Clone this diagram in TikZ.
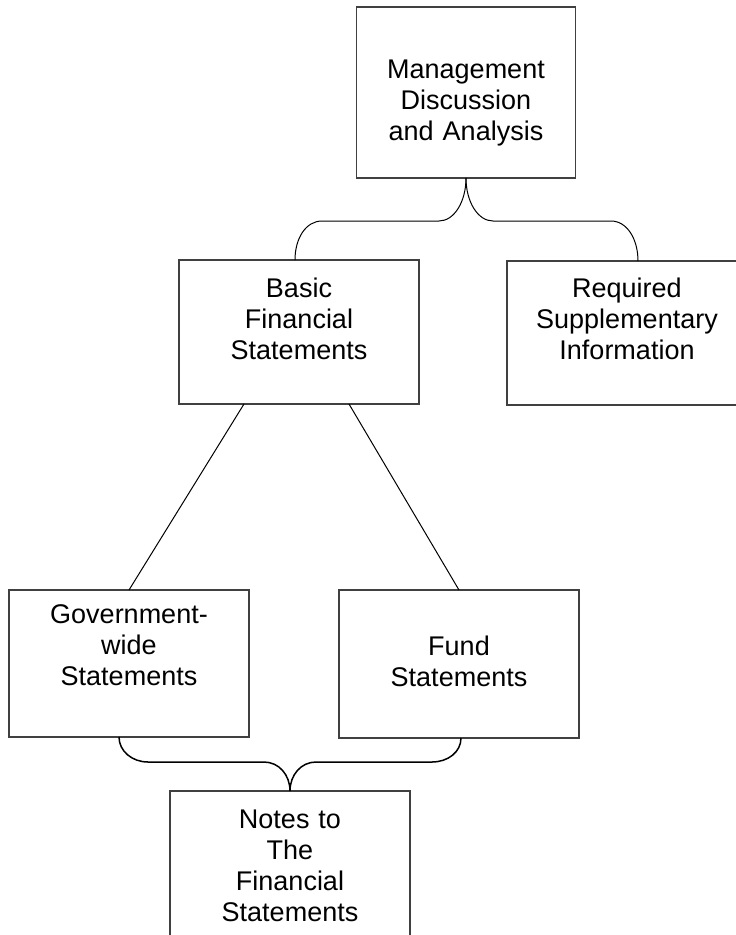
\documentclass[tikz,border=0pt]{standalone}
\usepackage{fontspec}
\setmainfont{Liberation Sans}
\usetikzlibrary{positioning}
\tikzset{
	statement/.style={
		rectangle,
		draw=black!75, line width=1.2pt,
		inner xsep=0pt, inner ysep=0pt, outer sep=0pt,
		text width=240pt,
		align=center,
		anchor=north,
		font=\fontsize{27}{31}\selectfont},
	line/.style={draw, line width=1pt},
	brace/.style={draw, line width=1pt},
	bracebold/.style={draw, line width=1.5pt},
}

\begin{document}
\begin{tikzpicture}[x=1pt, y=-1pt]
	\clip (0,0) rectangle (736,935);
	\node[statement, text width=219pt, text height=71pt, text depth=100pt] (mda) at (466,7) {Management\\Discussion\\and Analysis};
	\node[statement, text height=37pt, text depth=107pt] (basic) at (299,260) {Basic\\Financial\\Statements};
	\node[statement, text height=36pt, text depth=108pt] (rsi) at (627,261) {Required\\Supplementary\\Information};
	\node[statement, text height=33pt, text depth=114pt] (gov) at (129,590) {Government-\\wide\\Statements};
	\node[statement, text height=65pt, text depth=83pt] (fund) at (459,590) {Fund\\Statements};
	\node[statement, text height=37pt, text depth=140pt] (notes) at (290,791) {Notes to\\The\\Financial\\Statements};
	
	% braces
	\draw[brace] (mda.south) .. controls +(0,24) and +(15,0) .. ++(-27,43) -- ++(-117,0) .. controls +(-16,0) and +(0,-22) .. ([xshift=-4pt]basic.north);
	\draw[brace] (mda.south) .. controls +(0,24) and +(-15,0) .. ++(27,43) -- ++(118,0) .. controls +(16,0) and +(0,-22) .. ([xshift=11pt]rsi.north);
	\draw[bracebold] (notes.north) .. controls +(0,-16) and +(15,0) .. ++(-26,-29) -- ++(-116,0) .. controls +(-16,0) and +(0,14) .. ([xshift=-10pt]gov.south);
	\draw[bracebold] (notes.north) .. controls +(0,-16) and +(-15,0) .. ++(26,-29) -- ++(116,0) .. controls +(16,0) and +(0,14) .. ([xshift=2pt]fund.south);
	
	\draw[line] ([xshift=-55pt]basic.south) -- (gov.north);
	\draw[line] ([xshift=50pt]basic.south) -- (fund.north);
\end{tikzpicture}
\end{document}
